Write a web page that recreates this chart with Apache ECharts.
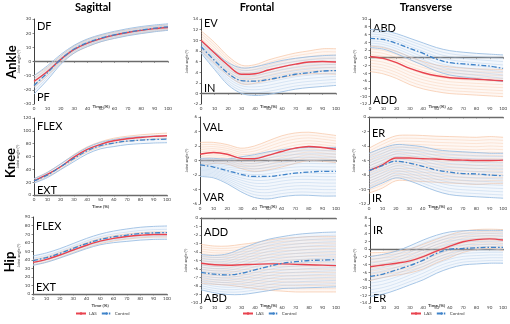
<!DOCTYPE html>
<html><head><meta charset="utf-8">
<script src="https://cdn.jsdelivr.net/npm/echarts@6/dist/echarts.min.js"></script>
<style>html,body{margin:0;padding:0;background:#fff}#c{width:510px;height:324px}</style>
</head><body><div id="c"></div>
<script>
const time = [0,10,20,30,40,50,60,70,80,90,100];
const columnTitles = ['Sagittal','Frontal','Transverse'];
const rowTitles = ['Ankle','Knee','Hip'];
const seriesNames = ['LAS','Control'];

// Ankle sagittal
const ankleSagLAS   = [-14,-7,1.5,8.5,13,16.2,18.6,20.5,22,23.2,24];
const ankleSagLASUp = [-10,-4,4,11,15.5,18.5,20.8,22.5,24,25,25.8];
const ankleSagLASLo = [-18,-10,-1,6,10.5,14,16.4,18.5,20,21.3,22.2];
const ankleSagCtl   = [-17,-8,1.5,8.8,13.3,16.5,18.8,20.7,22.2,23.5,24.5];
const ankleSagCtlUp = [-10,-3,5,11.5,16,19,21.3,23.2,24.7,25.8,26.6];
const ankleSagCtlLo = [-23,-13,-2,6,10.6,14,16.3,18.2,19.7,21,22];
// Ankle frontal
const ankleFroLAS   = [10,7.6,5.3,3.6,3.7,4.4,5.0,5.5,5.9,6.0,5.9];
const ankleFroLASUp = [11.8,9.6,7.0,5.3,5.4,6.3,7.0,7.6,8.0,8.4,8.4];
const ankleFroLASLo = [8.0,5.6,3.4,1.8,1.9,2.5,3.0,3.4,3.7,3.7,3.6];
const ankleFroCtl   = [8.8,6.2,3.8,2.4,2.3,2.6,3.1,3.6,3.9,4.2,4.3];
const ankleFroCtlUp = [9.9,7.8,5.8,4.8,5.0,5.6,6.2,6.6,6.9,7.1,7.2];
const ankleFroCtlLo = [7.6,4.5,1.6,0,-0.4,-0.2,0.3,0.8,1.1,1.3,1.5];
// Ankle transverse
const ankleTraLAS   = [0.3,-0.2,-1.3,-2.8,-3.9,-4.7,-5.2,-5.4,-5.6,-5.8,-6.0];
const ankleTraLASUp = [3.0,2.6,1.6,0.2,-1.0,-1.9,-2.4,-2.7,-2.9,-3.0,-3.1];
const ankleTraLASLo = [-3.6,-4.2,-5.4,-7.0,-8.1,-8.8,-9.3,-9.5,-9.7,-9.9,-10.1];
const ankleTraCtl   = [5.0,4.7,3.7,2.4,1.1,-0.4,-1.3,-1.6,-1.9,-2.2,-2.8];
const ankleTraCtlUp = [7.3,7.0,6.2,5.0,3.8,2.6,1.8,1.4,1.1,0.9,0.7];
const ankleTraCtlLo = [2.6,2.2,1.0,-0.5,-2.0,-3.5,-4.5,-5.0,-5.4,-5.8,-6.2];
// Knee sagittal
const kneeSagLAS   = [22,32,44,59,71,79,84.5,87.6,89.7,91.3,92.3];
const kneeSagLASUp = [25,35.5,48,63,75,83,88.5,91.6,93.8,95.4,96.5];
const kneeSagLASLo = [19,28.5,40,55,67,75,80.5,83.6,85.6,87.2,88.1];
const kneeSagCtl   = [22,31,44,57,69,77,81,84,85.5,86.5,87];
const kneeSagCtlUp = [25.5,35,48.5,62,74,82,86.5,89.5,91,92,92.5];
const kneeSagCtlLo = [18.5,27,39.5,52,64,72,75.5,78.5,80,81,81.5];
// Knee frontal
const kneeFroLAS   = [0.87,1.1,0.87,0.3,0.25,0.7,1.24,1.7,1.93,1.8,1.56];
const kneeFroLASUp = [2.5,2.5,2.2,1.7,2.0,2.7,3.4,3.8,3.9,3.7,3.45];
const kneeFroLASLo = [-0.8,-0.4,-0.5,-1.1,-1.5,-1.3,-0.9,-0.4,0,-0.1,-0.3];
const kneeFroCtl   = [-0.6,-0.9,-1.4,-1.9,-2.2,-2.2,-2.0,-1.75,-1.6,-1.5,-1.5];
const kneeFroCtlUp = [0.3,0.3,0.2,0.5,0.8,1.2,1.5,1.7,1.8,1.8,1.8];
const kneeFroCtlLo = [-2.2,-2.4,-3.2,-4.3,-5.1,-5.3,-5.0,-4.8,-4.8,-4.9,-4.9];
// Knee transverse
const kneeTraLAS   = [-7.4,-6.6,-5.65,-5.65,-5.75,-5.8,-5.9,-5.95,-6.0,-6.0,-5.95];
const kneeTraLASUp = [-4.3,-3.35,-2.6,-2.5,-2.55,-2.65,-2.7,-2.75,-2.8,-2.7,-2.8];
const kneeTraLASLo = [-10.5,-9.8,-8.8,-8.8,-8.9,-9.0,-9.1,-9.2,-9.3,-9.2,-9.2];
const kneeTraCtl   = [-7.4,-6.7,-6.1,-6.35,-6.8,-7.3,-7.6,-7.8,-7.85,-8.0,-8.1];
const kneeTraCtlUp = [-5.0,-4.3,-3.8,-3.9,-4.1,-4.5,-4.7,-4.8,-4.9,-5.0,-5.0];
const kneeTraCtlLo = [-9.9,-9.1,-8.4,-8.8,-9.5,-10.2,-10.7,-10.9,-11.0,-11.1,-11.2];
// Hip sagittal
const hipSagLAS   = [37,40.5,45.6,51.4,57,61.8,65,67.2,68.7,69.5,69.5];
const hipSagLASUp = [40,43.5,48.6,54.4,60,64.8,68,70.2,71.7,72.5,72.5];
const hipSagLASLo = [34,37.5,42.6,48.4,54,58.8,62,64.2,65.7,66.5,66.5];
const hipSagCtl   = [39,42.5,47.5,53.3,59,63.7,66.8,68.7,70.7,71.4,71.8];
const hipSagCtlUp = [44.5,48,53,59,65,70,73.5,76,78,79,79.5];
const hipSagCtlLo = [33.5,37,42,47.5,53,57.5,60,61.5,63,63.8,64];
// Hip frontal
const hipFroLAS   = [-5.33,-5.5,-5.55,-5.5,-5.45,-5.4,-5.4,-5.45,-5.5,-5.55,-5.6];
const hipFroLASUp = [-3.1,-3.3,-3.3,-3.1,-2.9,-2.6,-2.4,-2.3,-2.2,-2.2,-2.2];
const hipFroLASLo = [-7.7,-7.8,-7.9,-8.1,-8.3,-8.5,-8.6,-8.7,-8.7,-8.7,-8.7];
const hipFroCtl   = [-6.4,-6.6,-6.7,-6.5,-6.1,-5.7,-5.33,-5.14,-5.0,-4.95,-4.9];
const hipFroCtlUp = [-4.3,-4.4,-4.2,-3.6,-3.0,-2.5,-2.2,-1.95,-1.8,-1.7,-1.65];
const hipFroCtlLo = [-8.45,-8.8,-9.0,-9.0,-8.8,-8.55,-8.3,-8.25,-8.2,-8.15,-8.1];
// Hip transverse
const hipTraLAS   = [-4.6,-4.15,-3.7,-3.1,-2.0,-0.55,0.7,1.85,2.4,2.6,2.3];
const hipTraLASUp = [-1.0,-0.9,-0.6,0,1.2,2.5,3.7,4.6,5.0,5.1,5.0];
const hipTraLASLo = [-8.2,-7.4,-6.8,-6.2,-5.2,-3.6,-2.3,-0.9,-0.2,0.1,-0.4];
const hipTraCtl   = [-7.1,-6.5,-5.4,-4.3,-2.9,-1.15,-0.05,0.1,0.3,0.4,0.4];
const hipTraCtlUp = [-2.0,-1.4,-0.55,0.8,2.3,3.55,4.4,4.7,4.8,4.8,4.8];
const hipTraCtlLo = [-12.3,-11.7,-10.6,-9.3,-8.0,-6.3,-5.0,-4.15,-3.9,-3.7,-3.7];

// Axis ranges [min, max, interval]
const yRanges = [[-30,30,10],[-2,14,2],[-12,10,2],[0,120,20],[-6,6,2],[-12,0,2],[0,90,10],[-10,0,1],[-14,8,2]];
// Direction labels [top, bottom]
const dirLabels = [['DF','PF'],['EV','IN'],['ABD','ADD'],['FLEX','EXT'],['VAL','VAR'],['ER','IR'],['FLEX','EXT'],['ADD','ABD'],['IR','ER']];

const panels = [
  [ankleSagLAS,ankleSagLASUp,ankleSagLASLo,ankleSagCtl,ankleSagCtlUp,ankleSagCtlLo],
  [ankleFroLAS,ankleFroLASUp,ankleFroLASLo,ankleFroCtl,ankleFroCtlUp,ankleFroCtlLo],
  [ankleTraLAS,ankleTraLASUp,ankleTraLASLo,ankleTraCtl,ankleTraCtlUp,ankleTraCtlLo],
  [kneeSagLAS,kneeSagLASUp,kneeSagLASLo,kneeSagCtl,kneeSagCtlUp,kneeSagCtlLo],
  [kneeFroLAS,kneeFroLASUp,kneeFroLASLo,kneeFroCtl,kneeFroCtlUp,kneeFroCtlLo],
  [kneeTraLAS,kneeTraLASUp,kneeTraLASLo,kneeTraCtl,kneeTraCtlUp,kneeTraCtlLo],
  [hipSagLAS,hipSagLASUp,hipSagLASLo,hipSagCtl,hipSagCtlUp,hipSagCtlLo],
  [hipFroLAS,hipFroLASUp,hipFroLASLo,hipFroCtl,hipFroCtlUp,hipFroCtlLo],
  [hipTraLAS,hipTraLASUp,hipTraLASLo,hipTraCtl,hipTraCtlUp,hipTraCtlLo]
];

// layout
const grids = [
  {left:34,top:19,width:134,height:85},{left:201,top:19,width:135,height:85},{left:370,top:19,width:134,height:85},
  {left:34,top:118,width:133,height:77},{left:200,top:117,width:136,height:87},{left:369,top:117,width:135,height:87},
  {left:33,top:217,width:134,height:77},{left:201,top:218,width:135,height:85},{left:370,top:218,width:133,height:85}
];
const dirTopY = [26,23,28,126,127,133,226,232,230];
const dirBotY = [97,88,100,190,197,198,287,298,298];
const timeY = [107,207,306];
const FONT = 'Lato, "Open Sans", sans-serif';
const RED = '#e8434f', BLUE = '#3f83c9';
const ORANGE_FILL = 'rgba(250,205,178,0.16)', ORANGE_EDGE = '#f6c4a4', ORANGE_HATCH = 'rgba(244,177,131,0.45)';
const BLUE_FILL = 'rgba(180,205,235,0.16)', BLUE_EDGE = '#9dbfe3', BLUE_HATCH = 'rgba(157,191,227,0.55)';
const HATCH_GAP = 3.2; // px between hatch curves

const pairs = arr => time.map((t,k)=>[t, arr[k]]);

// Catmull-Rom smooth path through screen points
function curveSeg(pts){
  let d = '';
  for (let i=0;i<pts.length-1;i++){
    const p0 = pts[i-1]||pts[i], p1 = pts[i], p2 = pts[i+1], p3 = pts[i+2]||pts[i+1];
    const c1x = p1[0]+(p2[0]-p0[0])/6, c1y = p1[1]+(p2[1]-p0[1])/6;
    const c2x = p2[0]-(p3[0]-p1[0])/6, c2y = p2[1]-(p3[1]-p1[1])/6;
    d += ' C'+c1x+' '+c1y+' '+c2x+' '+c2y+' '+p2[0]+' '+p2[1];
  }
  return d;
}
const openPath = pts => 'M'+pts[0][0]+' '+pts[0][1]+curveSeg(pts);
function bandRender(up, lo, fill, edge, hatch, lw){
  return function(params, api){
    const u = time.map((t,k)=>api.coord([t, up[k]]));
    const lf = time.map((t,k)=>api.coord([t, lo[k]]));
    const l = lf.slice().reverse();
    const fillPath = openPath(u)+' L'+l[0][0]+' '+l[0][1]+curveSeg(l)+' Z';
    const children = [{type:'path', shape:{pathData:fillPath}, style:{fill:fill, stroke:null}}];
    // hatch texture: curves parallel to the band edges (screen-space blend)
    let maxW = 0;
    u.forEach((p,k)=>{ maxW = Math.max(maxW, Math.abs(lf[k][1]-p[1])); });
    const n = Math.max(2, Math.round(maxW/HATCH_GAP));
    for (let j=1;j<n;j++){
      const f = j/n;
      const pts = u.map((p,k)=>[p[0], p[1]+(lf[k][1]-p[1])*f]);
      children.push({type:'path', shape:{pathData:openPath(pts)}, style:{fill:null, stroke:hatch, lineWidth:0.6}});
    }
    children.push({type:'path', shape:{pathData:openPath(u)}, style:{fill:null, stroke:edge, lineWidth:lw}});
    children.push({type:'path', shape:{pathData:openPath(lf)}, style:{fill:null, stroke:edge, lineWidth:lw}});
    return {type:'group', children};
  };
}

const xAxis = [], yAxis = [], series = [], graphic = [];
grids.forEach((g,i)=>{
  xAxis.push({
    gridIndex:i, type:'value', min:0, max:100, interval:10,
    axisLine:{onZero:true, lineStyle:{color:'#6b6b6b', width:1.4}},
    axisTick:{show:true, length:1.5, lineStyle:{color:'#6b6b6b', width:0.6}},
    axisLabel:{fontSize:4.5, color:'#404040', margin:2, fontFamily:FONT},
    splitLine:{show:false}
  });
  const r = yRanges[i];
  yAxis.push({
    gridIndex:i, type:'value', min:r[0], max:r[1], interval:r[2],
    name:'Joint angle (°)', nameLocation:'middle', nameGap:11,
    nameTextStyle:{fontSize:4, color:'#404040', fontFamily:FONT},
    axisLine:{show:true, onZero:false, lineStyle:{color:'#404040', width:1}},
    axisTick:{show:true, length:1.5, lineStyle:{color:'#404040', width:0.6}},
    axisLabel:{fontSize:4.5, color:'#404040', margin:3, fontFamily:FONT},
    splitLine:{show:false}
  });
  const [las, lasUp, lasLo, ctl, ctlUp, ctlLo] = panels[i];
  series.push({type:'custom', name:'LAS band', xAxisIndex:i, yAxisIndex:i, data:[[0, las[0]]], clip:true, silent:true, z:1,
    renderItem: bandRender(lasUp, lasLo, ORANGE_FILL, ORANGE_EDGE, ORANGE_HATCH, 0.7)});
  series.push({type:'custom', name:'Control band', xAxisIndex:i, yAxisIndex:i, data:[[0, ctl[0]]], clip:true, silent:true, z:2,
    renderItem: bandRender(ctlUp, ctlLo, BLUE_FILL, BLUE_EDGE, BLUE_HATCH, 0.9)});
  const common = {type:'line', xAxisIndex:i, yAxisIndex:i, smooth:0.35, symbol:'none', silent:true};
  series.push(Object.assign({}, common, {name:seriesNames[0], data:pairs(las), lineStyle:{color:RED,width:1.4}, itemStyle:{color:RED}, z:5}));
  series.push(Object.assign({}, common, {name:seriesNames[1], data:pairs(ctl), lineStyle:{color:BLUE,width:1.3,type:[5,2,1.5,2]}, itemStyle:{color:BLUE}, z:6}));

  graphic.push({type:'text', x:g.left+g.width/2, y:timeY[Math.floor(i/3)],
    style:{text:'Time (%)', font:'bold 4.5px '+FONT, fill:'#404040', align:'center', verticalAlign:'middle'}});
  graphic.push({type:'text', x:g.left+3, y:dirTopY[i],
    style:{text:dirLabels[i][0], font:'11px '+FONT, fill:'#000', align:'left', verticalAlign:'middle'}});
  graphic.push({type:'text', x:g.left+3, y:dirBotY[i],
    style:{text:dirLabels[i][1], font:'11px '+FONT, fill:'#000', align:'left', verticalAlign:'middle'}});
});
[[93,columnTitles[0]],[257,columnTitles[1]],[426,columnTitles[2]]].forEach(([x,t])=>{
  graphic.push({type:'text', x:x, y:7, style:{text:t, font:'bold 11px '+FONT, fill:'#000', align:'center', verticalAlign:'middle'}});
});
[[12,62],[11,163],[10,262]].forEach(([x,y],k)=>{
  graphic.push({type:'text', x:x, y:y, rotation:Math.PI/2, style:{text:rowTitles[k], font:'bold 13px '+FONT, fill:'#000', align:'center', verticalAlign:'middle'}});
});

const legend = [75,242,410].map(l=>({
  left:l, top:311, data:seriesNames, itemWidth:10, itemHeight:3, itemGap:4, padding:0,
  textStyle:{fontSize:4.5, color:'#404040', fontFamily:FONT, padding:[0,0,0,-2]}, selectedMode:false
}));

const chart = echarts.init(document.getElementById('c'), null, {renderer:'canvas'});
chart.setOption({
  animation:false, backgroundColor:'#fff',
  grid: grids.map(g=>Object.assign({containLabel:false}, g)),
  xAxis, yAxis, series, legend, graphic
});
</script></body></html>
